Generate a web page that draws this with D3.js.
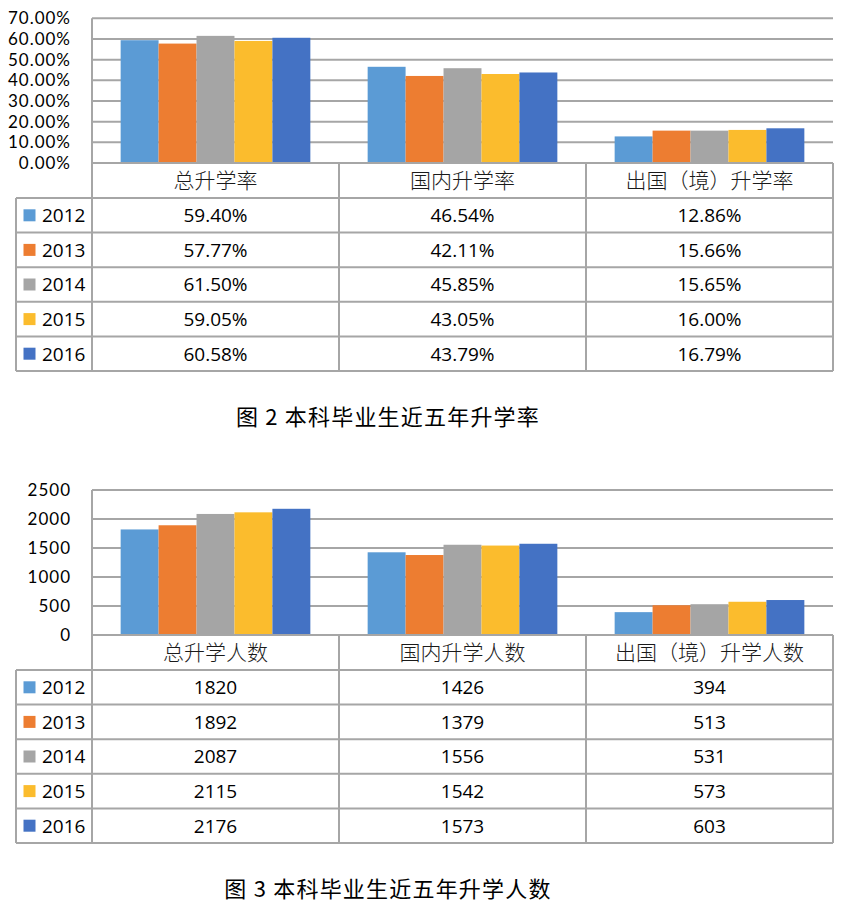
<!DOCTYPE html>
<html>
<head>
<meta charset="utf-8">
<script src="https://cdn.jsdelivr.net/npm/d3@7"></script>
<style>
  body { margin: 0; background: #fff; }
  svg { display: block; }
</style>
</head>
<body>
<div id="chart"></div>
<script>
const years = ["2012", "2013", "2014", "2015", "2016"];
const colors = ["#5b9bd5", "#ed7d31", "#a5a5a5", "#fbbc2d", "#4472c4"];

const rateCategories = ["总升学率", "国内升学率", "出国（境）升学率"];
const rate2012 = [59.40, 46.54, 12.86];
const rate2013 = [57.77, 42.11, 15.66];
const rate2014 = [61.50, 45.85, 15.65];
const rate2015 = [59.05, 43.05, 16.00];
const rate2016 = [60.58, 43.79, 16.79];
const rateTicks = [0, 10, 20, 30, 40, 50, 60, 70];

const countCategories = ["总升学人数", "国内升学人数", "出国（境）升学人数"];
const count2012 = [1820, 1426, 394];
const count2013 = [1892, 1379, 513];
const count2014 = [2087, 1556, 531];
const count2015 = [2115, 1542, 573];
const count2016 = [2176, 1573, 603];
const countTicks = [0, 500, 1000, 1500, 2000, 2500];

const captions = ["图 2 本科毕业生近五年升学率", "图 3 本科毕业生近五年升学人数"];

const width = 842, height = 908;
const lineColor = "#a6a6a6";
const numFont = "'Open Sans', 'Liberation Sans', sans-serif";
const tickFont = "Lato, 'Open Sans', sans-serif";
const cjkFont = "'Noto Sans CJK SC', sans-serif";

const svg = d3.select("#chart")
    .append("svg")
    .attr("width", width)
    .attr("height", height);

function drawChart(cfg) {
    const g = svg.append("g");
    const left = 92, right = 833, legendLeft = 16;
    const headerH = 35, rowH = 34.6;

    const y = d3.scaleLinear()
        .domain([0, cfg.ticks[cfg.ticks.length - 1]])
        .range([cfg.bottom, cfg.top]);

    const x0 = d3.scaleBand()
        .domain(cfg.categories)
        .range([left, right]);

    const gap = x0.bandwidth() * 0.116;
    const x1 = d3.scaleBand()
        .domain(years)
        .range([gap, x0.bandwidth() - gap]);

    // gridlines
    g.selectAll("line.grid")
        .data(cfg.ticks)
        .enter().append("line")
        .attr("class", "grid")
        .attr("x1", left).attr("x2", right)
        .attr("y1", d => y(d)).attr("y2", d => y(d))
        .attr("stroke", lineColor)
        .attr("stroke-width", 2);

    // tick labels
    g.selectAll("text.tick")
        .data(cfg.ticks)
        .enter().append("text")
        .attr("class", "tick")
        .attr("x", 71)
        .attr("y", d => y(d))
        .attr("dy", "0.36em")
        .attr("text-anchor", "end")
        .style("font-family", tickFont)
        .style("font-size", "17px")
        .style("letter-spacing", "1px")
        .text(cfg.tickFormat);

    // bars
    const bars = [];
    cfg.series.forEach((vals, i) => {
        vals.forEach((v, j) => bars.push({ year: years[i], cat: cfg.categories[j], value: v, i: i }));
    });

    g.selectAll("rect.bar")
        .data(bars)
        .enter().append("rect")
        .attr("class", "bar")
        .attr("x", d => x0(d.cat) + x1(d.year))
        .attr("width", x1.bandwidth())
        .attr("y", d => y(d.value))
        .attr("height", d => y(0) - y(d.value))
        .attr("fill", d => colors[d.i]);

    // table
    const tTop = cfg.bottom;
    const rowTop = tTop + headerH;
    const tBottom = rowTop + rowH * years.length;

    // horizontal table lines
    g.append("line")
        .attr("x1", left).attr("x2", right)
        .attr("y1", tTop).attr("y2", tTop)
        .attr("stroke", lineColor).attr("stroke-width", 2);

    g.selectAll("line.row")
        .data(d3.range(years.length + 1))
        .enter().append("line")
        .attr("class", "row")
        .attr("x1", legendLeft).attr("x2", right)
        .attr("y1", d => rowTop + d * rowH).attr("y2", d => rowTop + d * rowH)
        .attr("stroke", lineColor).attr("stroke-width", 2);

    // vertical lines
    g.append("line")
        .attr("x1", left).attr("x2", left)
        .attr("y1", cfg.top).attr("y2", tBottom)
        .attr("stroke", lineColor).attr("stroke-width", 2);

    g.append("line")
        .attr("x1", legendLeft).attr("x2", legendLeft)
        .attr("y1", rowTop).attr("y2", tBottom)
        .attr("stroke", lineColor).attr("stroke-width", 2);

    g.selectAll("line.col")
        .data(cfg.categories)
        .enter().append("line")
        .attr("class", "col")
        .attr("x1", d => x0(d) + x0.bandwidth()).attr("x2", d => x0(d) + x0.bandwidth())
        .attr("y1", tTop).attr("y2", tBottom)
        .attr("stroke", lineColor).attr("stroke-width", 2);

    // category headers
    g.selectAll("text.cat")
        .data(cfg.categories)
        .enter().append("text")
        .attr("class", "cat")
        .attr("x", d => x0(d) + x0.bandwidth() / 2)
        .attr("y", tTop + headerH / 2)
        .attr("dy", "0.36em")
        .attr("text-anchor", "middle")
        .style("font-family", cjkFont)
        .style("font-weight", 300)
        .style("font-size", "21px")
        .style("fill", "#1a1a1a")
        .text(d => d);

    // legend keys
    const legend = g.selectAll("g.legend")
        .data(years)
        .enter().append("g")
        .attr("class", "legend")
        .attr("transform", (d, i) => `translate(0, ${rowTop + i * rowH + rowH / 2})`);

    legend.append("rect")
        .attr("x", 23.5).attr("y", -6)
        .attr("width", 12).attr("height", 12)
        .attr("fill", (d, i) => colors[i]);

    legend.append("text")
        .attr("x", 42)
        .attr("dy", "0.36em")
        .style("font-family", numFont)
        .style("font-size", "19px")
        .text(d => d);

    // cell values
    g.selectAll("text.cell")
        .data(bars)
        .enter().append("text")
        .attr("class", "cell")
        .attr("x", d => x0(d.cat) + x0.bandwidth() / 2)
        .attr("y", d => rowTop + d.i * rowH + rowH / 2)
        .attr("dy", "0.36em")
        .attr("text-anchor", "middle")
        .style("font-family", numFont)
        .style("font-size", "19px")
        .text(d => cfg.cellFormat(d.value));

    // caption
    g.append("text")
        .attr("x", 388)
        .attr("y", cfg.captionY)
        .attr("dy", "0.36em")
        .attr("text-anchor", "middle")
        .style("font-family", cjkFont)
        .style("font-size", "22px")
        .style("letter-spacing", "1.2px")
        .text(cfg.caption);
}

drawChart({
    categories: rateCategories,
    series: [rate2012, rate2013, rate2014, rate2015, rate2016],
    ticks: rateTicks,
    top: 18.3,
    bottom: 163,
    tickFormat: d => d.toFixed(2) + "%",
    cellFormat: d => d.toFixed(2) + "%",
    caption: captions[0],
    captionY: 417.5
});

drawChart({
    categories: countCategories,
    series: [count2012, count2013, count2014, count2015, count2016],
    ticks: countTicks,
    top: 490,
    bottom: 635,
    tickFormat: d => d,
    cellFormat: d => d,
    caption: captions[1],
    captionY: 889.5
});
</script>
</body>
</html>
